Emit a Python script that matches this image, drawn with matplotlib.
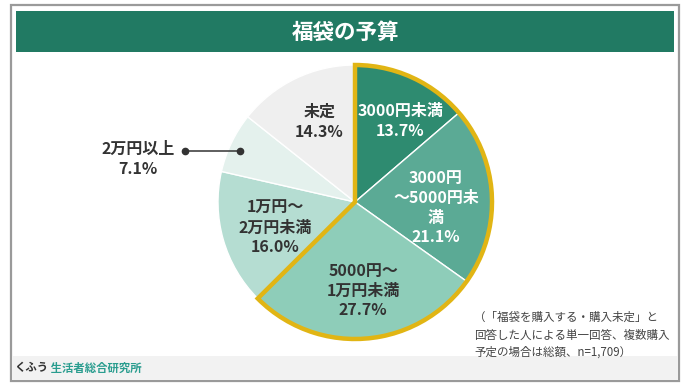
import numpy as np
import matplotlib
matplotlib.use('Agg')
import matplotlib.pyplot as plt
from matplotlib.patches import Rectangle, Wedge

plt.rcParams['font.family'] = ['Noto Sans CJK JP', 'DejaVu Sans']

# データ
categories = ['3000円未満', '3000円\n～5000円未\n満', '5000円～\n1万円未満',
              '1万円～\n2万円未満', '2万円以上', '未定']
shares = [13.7, 21.1, 27.7, 16.0, 7.1, 14.3]
colors = ['#2E8B70', '#5BAA95', '#8ECDB9', '#B5DDD2', '#E4F1ED', '#EFEFEF']
text_colors = ['white', 'white', '#333333', '#333333', '#333333', '#333333']
n_highlight = 3  # 金色の枠で囲む区分の数

title = '福袋の予算'
note = '（「福袋を購入する・購入未定」と\n回答した人による単一回答、複数購入\n予定の場合は総額、n=1,709）'

W, H = 683, 391
fig = plt.figure(figsize=(W / 100, H / 100), dpi=100)
ax = fig.add_axes([0, 0, 1, 1])

def py(y):  # ピクセル座標(上から)をデータ座標へ
    return H - y

# 円グラフ
cx, cy, r = 355, py(202), 137
wedges, _ = ax.pie(shares, colors=colors, startangle=90, counterclock=False,
                   center=(cx, cy), radius=r, frame=True,
                   wedgeprops=dict(edgecolor='white', linewidth=1, zorder=2))
ax.set_xlim(0, W)
ax.set_ylim(0, H)
ax.set_aspect('equal')
ax.axis('off')

# 外枠とフッター
ax.add_patch(Rectangle((11, py(381)), 668, 376, facecolor='white', edgecolor='#9A9A9A', lw=1.6, zorder=0))
ax.add_patch(Rectangle((12, py(380)), 666, 24, facecolor='#F2F2F2', edgecolor='none', zorder=1))
ax.add_patch(Rectangle((16, py(52)), 658, 41, facecolor='#217A63', edgecolor='none', zorder=1))
ax.text(346, py(32), title, color='white', fontsize=15.5, fontweight='bold', ha='center', va='center')

# 金色の枠
t_end = wedges[0].theta2
t_start = wedges[n_highlight - 1].theta1
ax.add_patch(Wedge((cx, cy), r, t_start, t_end, fill=False, edgecolor='#E1B514',
                   lw=3.2, joinstyle='miter', zorder=5))

# ラベル (円の中心からの位置 + 微調整, px)
nudges = [(8, 0), (-8, -10), (1, 0), (6, -1), (0, -4), (3, 0)]
for i, w in enumerate(wedges):
    mid = np.deg2rad((w.theta1 + w.theta2) / 2)
    lab = f'{categories[i]}\n{shares[i]:.1f}%'
    dx, dy = nudges[i]
    if categories[i] == '2万円以上':
        px, pyy = cx + 0.93 * r * np.cos(mid) + dx, cy + 0.93 * r * np.sin(mid) + dy
        ax.plot([185, px], [pyy, pyy], color='#333333', lw=1.1, zorder=6)
        ax.plot([185, px], [pyy, pyy], 'o', color='#333333', ms=4.5, zorder=6)
        ax.text(138, pyy - 8, lab, color=text_colors[i], fontsize=11.5, fontweight='bold',
                ha='center', va='center', linespacing=1.28, zorder=6)
        continue
    tx, ty = cx + 0.65 * r * np.cos(mid) + dx, cy + 0.65 * r * np.sin(mid) + dy
    ax.text(tx, ty, lab, color=text_colors[i], fontsize=11.5, fontweight='bold',
            ha='center', va='center', linespacing=1.28, zorder=6)

# 注記
ax.text(474, py(335), note, color='#444444', fontsize=8.3, ha='left', va='center', linespacing=1.45)

# フッター
t = ax.text(14, py(368), 'くふう', color='#333333', fontsize=8.2, fontweight='bold', ha='left', va='center')
ax.annotate(' 生活者総合研究所', xycoords=t, xy=(1, 0.5), va='center', ha='left',
            color='#2A9D8F', fontsize=8.2, fontweight='bold')

fig.savefig('out.png', dpi=100)
